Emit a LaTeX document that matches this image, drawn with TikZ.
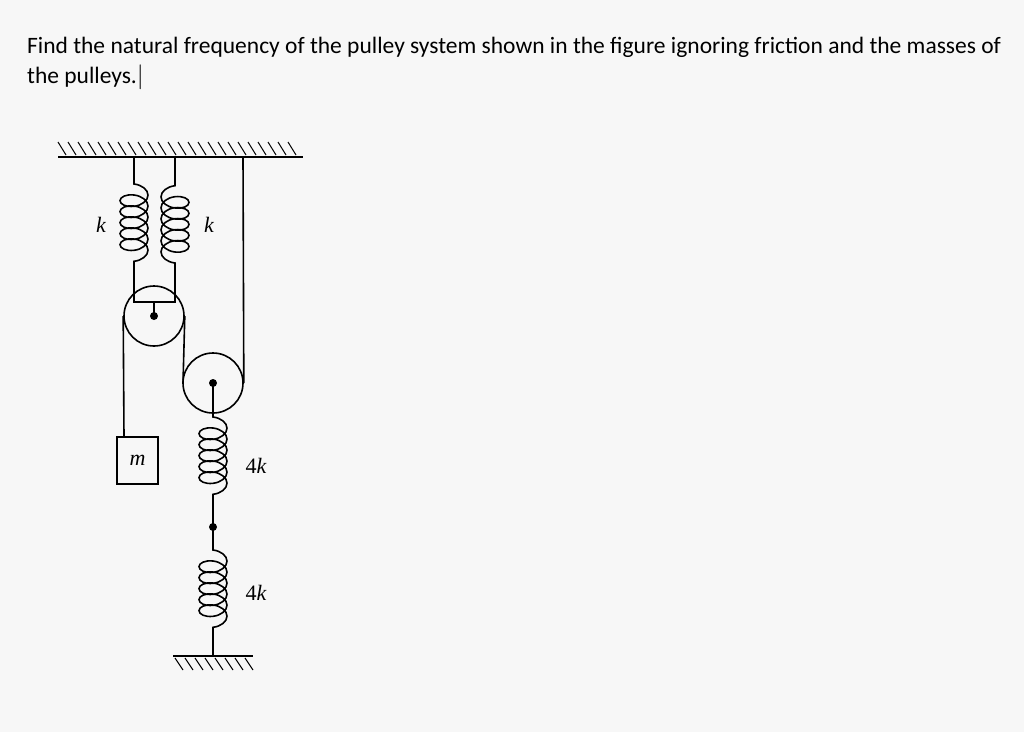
\documentclass[tikz,border=0pt]{standalone}
\usepackage{fontspec}
\setmainfont{Carlito}
\newfontfamily\serif{Liberation Serif}
\usetikzlibrary{decorations.pathmorphing}
\begin{document}
\begin{tikzpicture}[x=1pt,y=-1pt,line width=1.6pt,
  springc/.style={decorate,decoration={coil,amplitude=14pt,segment length=11pt,aspect=0.6,pre length=2pt,post length=2pt}},
  lbl/.style={font=\serif\itshape\fontsize{22}{26}\selectfont}]
\fill[white!94!gray] (0,0) rectangle (1024,732);
\useasboundingbox (0,0) rectangle (1024,732);
\node[anchor=west,font=\fontsize{23.5}{28}\selectfont] (t1) at (23,47) {Find the natural frequency of the pulley system shown in the figure ignoring friction and the masses of};
\node[anchor=west,font=\fontsize{23.5}{28}\selectfont] (t2) at (23,77) {the pulleys.$|$};
% ceiling
\coordinate (cl) at (58,157); \coordinate (cr) at (303,157);
\draw (cl) -- (cr);
\foreach \x in {66,76,...,303} \draw[line width=1pt] (\x-8,142) -- (\x,155);
% ground
\coordinate (gl) at (173,656); \coordinate (gr) at (253,656);
\draw (gl) -- (gr);
\foreach \x in {175,185,...,245} \draw[line width=1pt] (\x,658) -- (\x+8,670);
% pulleys
\node[circle,draw,minimum size=60pt,inner sep=0] (p1) at (154,316) {};
\node[circle,draw,minimum size=60pt,inner sep=0] (p2) at (213,383) {};
\fill (p1.center) circle (4pt);
\fill (p2.center) circle (4pt);
% springs k
\coordinate (s1t) at (134,157); \coordinate (s2t) at (175,157);
\coordinate (s1b) at (134,302); \coordinate (s2b) at (175,302);
\draw (s1t) -- (134,182);
\draw[springc] (134,182) -- (134,265);
\draw (134,265) -- (s1b) -- (s2b) -- (175,265);
\draw[springc] (175,265) -- (175,182);
\draw (175,182) -- (s2t);
\draw (154,302) -- (p1.center);
% mass and ropes
\node[draw,minimum width=41pt,minimum height=47pt,inner sep=0] (m) at (137.5,460.5) {};
\node[lbl] at (m) {m};
\draw (p1.west) -- (124,437);
\draw (p1.east) -- (183,383);
\draw (p2.east) -- (243,157);
% lower springs
\coordinate (dot) at (213,527);
\draw (p2.center) -- (213,415);
\draw[springc] (213,415) -- (213,505);
\draw (213,505) -- (dot);
\fill (dot) circle (4pt);
\draw (dot) -- (213,548);
\draw[springc] (213,548) -- (213,635);
\draw (213,635) -- (213,656);
% labels
\node[lbl] at (101,225) {k};
\node[lbl] at (209,225) {k};
\node[lbl] at (256,466) {\upshape 4\itshape k};
\node[lbl] at (256,593) {\upshape 4\itshape k};
\end{tikzpicture}
\end{document}
